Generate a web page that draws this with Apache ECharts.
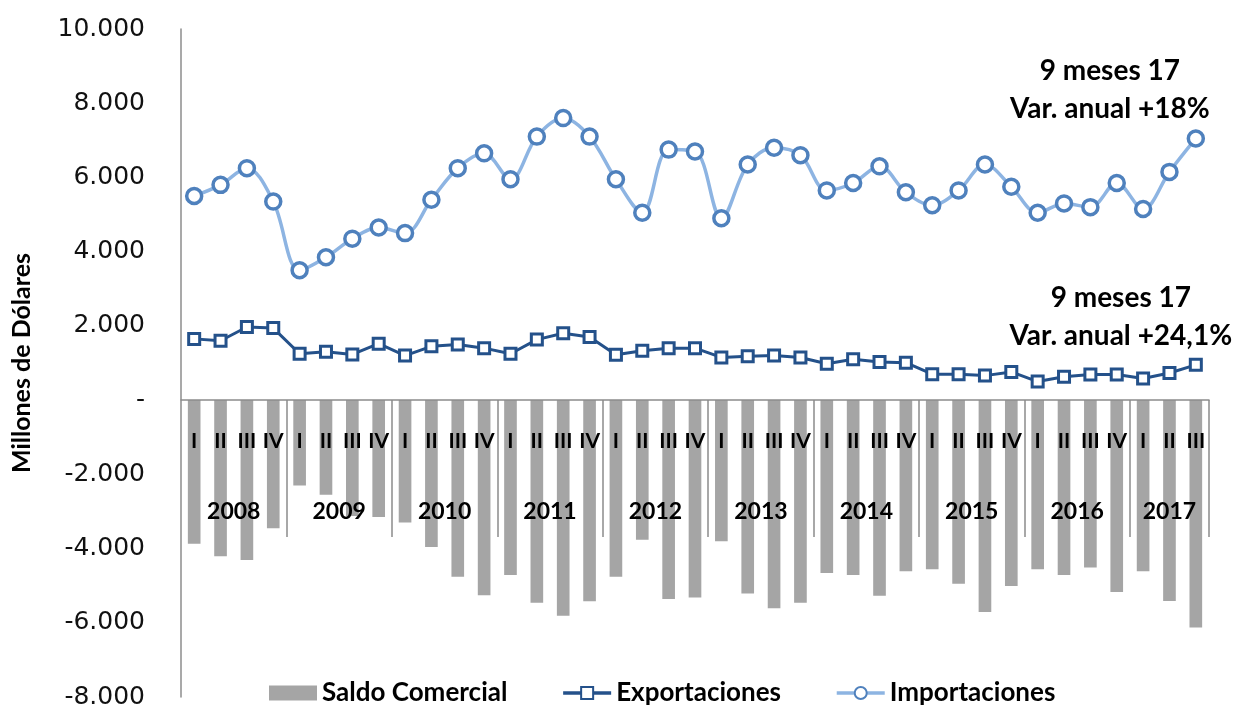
<!DOCTYPE html>
<html>
<head>
<meta charset="utf-8">
<script src="https://cdn.jsdelivr.net/npm/echarts@6/dist/echarts.min.js"></script>
<style>
  html, body { margin: 0; padding: 0; background: #fff; }
  #chart { width: 1233px; height: 708px; }
</style>
</head>
<body>
<div id="chart"></div>
<script>
// trimestres 2008 I .. 2017 III
const years = ['2008', '2009', '2010', '2011', '2012', '2013', '2014', '2015', '2016', '2017']
const quarterNames = ['I', 'II', 'III', 'IV']
const quartersLastYear = 3

// millones de dolares
const exportaciones = [
  1650, 1600, 1970, 1940,
  1250, 1300, 1230, 1520,
  1200, 1450, 1500, 1400,
  1250, 1630, 1800, 1700,
  1220, 1330, 1400, 1400,
  1150, 1180, 1200, 1150,
  980, 1100, 1030, 1010,
  700, 700, 660, 760,
  500, 630, 690, 690,
  580, 730, 950
]
const importaciones = [
  5500, 5800, 6250, 5350,
  3500, 3850, 4350, 4650,
  4500, 5400, 6250, 6650,
  5950, 7100, 7600, 7100,
  5950, 5050, 6750, 6700,
  4900, 6350, 6800, 6600,
  5650, 5850, 6300, 5600,
  5250, 5650, 6350, 5750,
  5050, 5300, 5200, 5850,
  5150, 6150, 7050
]
const saldoComercial = [
  -3870, -4210, -4310, -3450,
  -2300, -2550, -3120, -3150,
  -3300, -3960, -4760, -5260,
  -4710, -5460, -5810, -5420,
  -4760, -3760, -5360, -5320,
  -3800, -5210, -5610, -5460,
  -4660, -4710, -5270, -4610,
  -4560, -4950, -5710, -5010,
  -4560, -4710, -4510, -5170,
  -4610, -5410, -6130
]
const notaImportaciones = '9 meses 17\nVar. anual +18%'
const notaExportaciones = '9 meses 17\nVar. anual +24,1%'

const yMin = -8000
const yMax = 10000

// categorias y posiciones de los años
const categories = []
const yearCenters = []
const yearBounds = []
years.forEach((y, i) => {
  const n = i === years.length - 1 ? quartersLastYear : 4
  const start = categories.length
  for (let q = 0; q < n; q++) categories.push(quarterNames[q])
  yearCenters.push(start + n / 2)
  yearBounds.push(start + n)
})

const boldFont = 'Lato'
const fmt = v => {
  if (v === 0) return '-'
  const s = Math.abs(v).toString().replace(/\B(?=(\d{3})+(?!\d))/g, '.')
  return (v < 0 ? '-' : '') + s
}

const lastLabel = (data, text, offset) => data.map((v, i) => {
  if (i !== data.length - 1) return v
  return {
    value: v,
    label: {
      show: true,
      position: 'top',
      offset: offset,
      formatter: text,
      color: '#000',
      fontFamily: boldFont,
      fontWeight: 'bold',
      fontSize: 28,
      lineHeight: 38,
      align: 'center'
    }
  }
})

// la linea de categorias va en el cero: segundo grid que termina en y = 0
const plotTop = 29
const plotBottom = 11
const plotH = 708 - plotTop - plotBottom
const zeroFromBottom = plotBottom + plotH * (0 - yMin) / (yMax - yMin)

const chart = echarts.init(document.getElementById('chart'))
chart.setOption({
  animation: false,
  grid: [
    { left: 181, right: 24, top: plotTop, bottom: plotBottom, containLabel: false, outerBoundsMode: 'none' },
    { left: 181, right: 24, top: plotTop, bottom: zeroFromBottom, containLabel: false, outerBoundsMode: 'none' }
  ],
  legend: {
    left: 264,
    bottom: -3,
    itemGap: 54,
    itemWidth: 48,
    itemHeight: 15,
    textStyle: { fontFamily: boldFont, fontWeight: 'bold', fontSize: 26, color: '#000' },
    data: [
      { name: 'Saldo Comercial', icon: 'rect', itemStyle: { color: '#a5a5a5' } },
      { name: 'Exportaciones', lineStyle: { width: 3.5 } },
      { name: 'Importaciones', lineStyle: { width: 3.5 } }
    ]
  },
  xAxis: [
    {
      type: 'category',
      gridIndex: 0,
      data: categories,
      show: false
    },
    {
      type: 'category',
      gridIndex: 1,
      data: categories,
      position: 'bottom',
      z: 10,
      axisLine: { onZero: false, lineStyle: { color: '#8c8c8c', width: 1.5 } },
      axisTick: { show: false },
      axisLabel: {
        interval: 0,
        margin: 31,
        color: '#000',
        fontFamily: boldFont,
        fontWeight: 'bold',
        fontSize: 21
      }
    },
    {
      type: 'value',
      gridIndex: 1,
      min: 0,
      max: categories.length,
      position: 'bottom',
      z: 10,
      splitLine: { show: false },
      axisLine: { show: false, onZero: false },
      axisTick: {
        show: true,
        length: 137,
        customValues: yearBounds,
        lineStyle: { color: '#8c8c8c', width: 1.5 }
      },
      axisLabel: {
        margin: 100,
        customValues: yearCenters,
        formatter: v => years[yearCenters.indexOf(v)] || '',
        color: '#000',
        fontFamily: boldFont,
        fontWeight: 'bold',
        fontSize: 23
      }
    }
  ],
  yAxis: [
    {
      type: 'value',
      gridIndex: 0,
      min: yMin,
      max: yMax,
      interval: 2000,
      name: 'Millones de Dólares',
      nameLocation: 'middle',
      nameRotate: 90,
      nameGap: 147,
      nameTextStyle: { fontFamily: boldFont, fontWeight: 'bold', fontSize: 25, color: '#000' },
      splitLine: { show: false },
      axisTick: { show: false },
      axisLine: { show: true, onZero: false, lineStyle: { color: '#8c8c8c', width: 1.5 } },
      axisLabel: {
        margin: 36,
        formatter: fmt,
        color: '#111',
        fontFamily: 'DejaVu Sans',
        fontSize: 25
      }
    },
    {
      type: 'value',
      gridIndex: 1,
      min: 0,
      max: 1,
      show: false
    }
  ],
  series: [
    {
      name: 'Saldo Comercial',
      type: 'bar',
      barWidth: '48%',
      itemStyle: { color: '#a5a5a5' },
      data: saldoComercial,
      z: 1
    },
    {
      name: 'Exportaciones',
      type: 'line',
      symbol: 'rect',
      symbolSize: 11,
      lineStyle: { color: '#24518a', width: 3 },
      itemStyle: { color: '#fff', borderColor: '#24518a', borderWidth: 3 },
      data: lastLabel(exportaciones, notaExportaciones, [-75, 2]),
      z: 3
    },
    {
      name: 'Importaciones',
      type: 'line',
      smooth: 0.35,
      symbol: 'circle',
      symbolSize: 15,
      lineStyle: { color: '#8db4e2', width: 3.5 },
      itemStyle: { color: '#fff', borderColor: '#4f81bd', borderWidth: 3.5 },
      data: lastLabel(importaciones, notaImportaciones, [-86, 4]),
      z: 4
    }
  ]
})
</script>
</body>
</html>
